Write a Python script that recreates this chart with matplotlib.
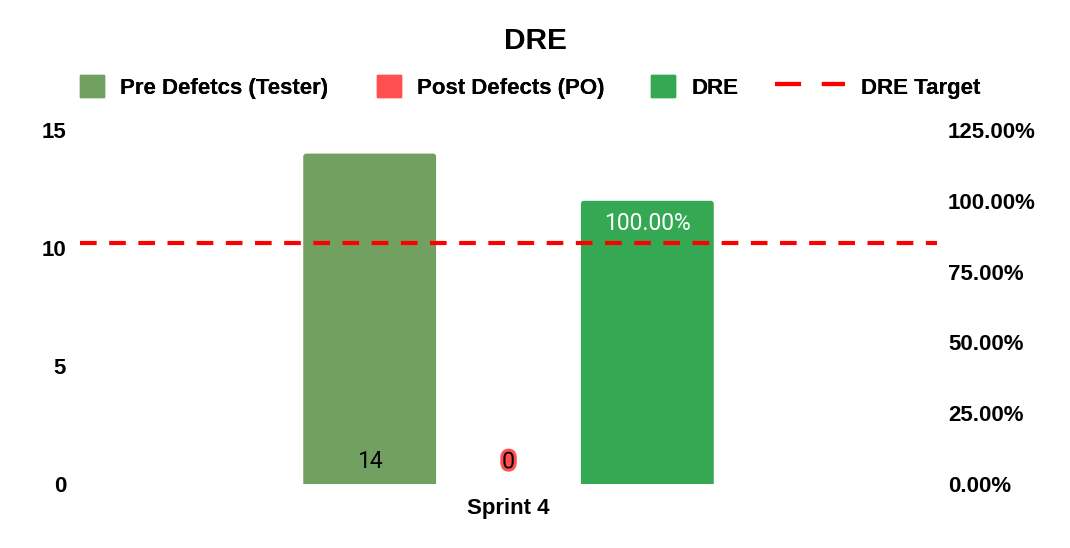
import matplotlib
matplotlib.use('Agg')
import matplotlib.pyplot as plt
import matplotlib.patches as patches
import matplotlib.patheffects as pe
from matplotlib.lines import Line2D

# data
sprints = ['Sprint 4']
pre_defects = [14]
post_defects = [0]
dre = [1.00]
dre_target = 0.85

left_ticks = [0, 5, 10, 15]
right_ticks = [0, 0.25, 0.5, 0.75, 1.0, 1.25]

c_pre = '#72a060'
c_post = '#ff4f4f'
c_dre = '#34a853'
c_target = '#ff0000'

W, H = 1070, 548
fig = plt.figure(figsize=(W / 100, H / 100), dpi=100)
ax = fig.add_axes([80 / W, 1 - 484 / H, (937 - 80) / W, (484 - 130) / H])
ax2 = ax.twinx()

bold = dict(family='Liberation Sans', fontweight='bold')
lab_font = dict(family='Roboto', fontsize=16.5)
tick_fs = 16


def round_top(a, bars, radius_px=3):
    # swap each bar for a box with slightly rounded corners
    bb = a.get_window_extent()
    x0, x1 = a.get_xlim()
    y0, y1 = a.get_ylim()
    xu = (x1 - x0) / bb.width
    yu = (y1 - y0) / bb.height
    r = radius_px * xu
    for rect in bars:
        x, y = rect.get_x(), rect.get_y()
        w, h = rect.get_width(), rect.get_height()
        if h <= 0:
            continue
        rect.set_visible(False)
        box = patches.FancyBboxPatch((x, y - radius_px * yu), w, h + radius_px * yu,
                                     boxstyle=f'round,pad=0,rounding_size={r}',
                                     mutation_aspect=yu / xu,
                                     fc=rect.get_facecolor(), ec='none', zorder=2)
        a.add_patch(box)


off = 0.162
bw = 0.155
ax.set_xlim(-0.5, 0.5)
ax.set_ylim(0, 15)
ax2.set_ylim(0, 1.25)
for i, s in enumerate(sprints):
    b1 = ax.bar(i - off, pre_defects[i], width=bw, color=c_pre, zorder=2)
    b2 = ax.bar(i, post_defects[i], width=bw, color=c_post, zorder=2)
    b3 = ax2.bar(i + off, dre[i], width=bw, color=c_dre, zorder=2)
    round_top(ax, b1)
    round_top(ax2, b3)

    ax.annotate(f'{pre_defects[i]}', (i - off, 0), xytext=(0, 16), textcoords='offset points',
                ha='center', va='center', color='black', **lab_font)
    ax.annotate(f'{post_defects[i]}', (i, 0), xytext=(0, 16), textcoords='offset points',
                ha='center', va='center', color='black', **lab_font,
                path_effects=[pe.withStroke(linewidth=4.5, foreground=c_post)])
    ax2.annotate(f'{dre[i] * 100:.2f}%', (i + off, dre[i]), xytext=(0, -16), textcoords='offset points',
                 ha='center', va='center', color='white', **lab_font)

ax2.axhline(dre_target, color=c_target, lw=3, dashes=(4, 3), zorder=3)

ax.set_xticks(range(len(sprints)))
ax.set_xticklabels(sprints, fontsize=tick_fs, **bold)
ax.set_yticks(left_ticks)
ax.set_yticklabels([str(t) for t in left_ticks], fontsize=tick_fs, **bold)
ax2.set_yticks(right_ticks)
ax2.set_yticklabels([f'{t * 100:.2f}%' for t in right_ticks], fontsize=tick_fs, **bold)
for a in (ax, ax2):
    for sp in a.spines.values():
        sp.set_visible(False)
    a.tick_params(length=0)
ax.tick_params(axis='y', pad=10)
ax.tick_params(axis='x', pad=10)
ax2.tick_params(axis='y', pad=8)

fig.suptitle('DRE', y=1 - 41 / H, va='center', fontsize=21.5, **bold)

# legend, one entry per box so each sits where the reference has it
fs = 16
legend_items = [
    (patches.Patch(color=c_pre, label='Pre Defetcs (Tester)'), 80),
    (patches.Patch(color=c_post, label='Post Defects (PO)'), 377),
    (patches.Patch(color=c_dre, label='DRE'), 651),
    (Line2D([], [], color=c_target, lw=3, dashes=(6.25, 5), label='DRE Target'), 775),
]
for h, xpx in legend_items:
    is_line = isinstance(h, Line2D)
    leg = fig.legend(handles=[h], loc='center left', bbox_to_anchor=(xpx / W, 1 - 87 / H),
                     frameon=False, borderpad=0, borderaxespad=0,
                     handlelength=(70 / 22.2) if is_line else (24 / 22.2),
                     handleheight=24 / 22.2, handletextpad=0.72,
                     prop=dict(family='Liberation Sans', weight='bold', size=fs))
    fig.add_artist(leg)

fig.savefig('out.png', dpi=100)
